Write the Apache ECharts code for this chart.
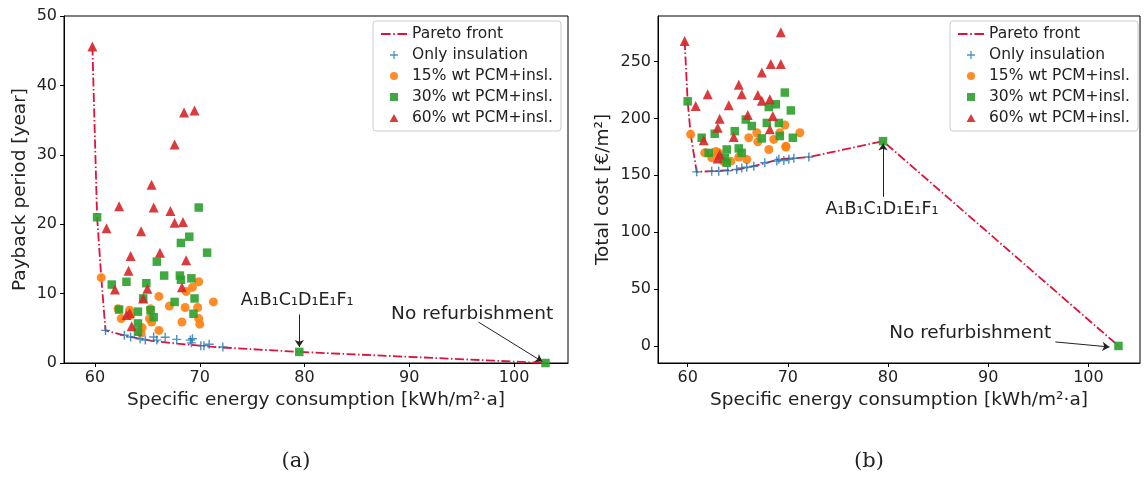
<!DOCTYPE html>
<html>
<head>
<meta charset="utf-8">
<script src="https://cdn.jsdelivr.net/npm/echarts@6/dist/echarts.min.js"></script>
<style>
  html, body { margin: 0; padding: 0; background: #fff; }
  #chart { width: 1144px; height: 479px; }
</style>
</head>
<body>
<div id="chart"></div>
<script>
// series names (legend)
const names = ['Pareto front', 'Only insulation', '15% wt PCM+insl.', '30% wt PCM+insl.', '60% wt PCM+insl.'];

// (a) payback period [year] vs specific energy consumption
const paretoA = [[59.75,45.6],[60.2,21.0],[60.6,12.3],[61.0,4.7],[62.7,4.0],[63.4,3.75],[64.3,3.5],[65.4,3.2],[67.8,2.8],[70.0,2.5],[71.9,2.26],[79.5,1.6],[103,0]];
const insulA = [[61.0,4.7],[62.8,4.0],[63.4,3.75],[64.3,3.5],[64.8,3.3],[65.6,3.75],[65.9,3.3],[66.7,3.7],[67.8,3.4],[69.1,3.3],[69.3,3.5],[69.2,2.9],[70.1,2.5],[70.4,2.5],[70.9,2.7],[72.2,2.3]];
const pcm15A = [[60.6,12.3],[62.2,7.8],[62.5,6.4],[63.3,7.6],[63.4,6.9],[64.5,5.1],[64.4,4.3],[65.2,6.4],[65.4,5.9],[65.3,7.8],[66.1,4.7],[66.1,9.6],[67.1,8.2],[68.3,5.9],[68.6,8.0],[68.7,10.3],[69.3,10.9],[69.9,11.7],[69.8,8.0],[69.9,6.4],[70.0,5.6],[71.3,8.8]];
const pcm30A = [[60.2,21.0],[61.6,11.3],[63.0,11.7],[62.3,7.7],[64.1,7.4],[64.6,9.3],[64.9,11.5],[65.3,7.6],[65.6,6.6],[65.9,14.6],[66.6,12.6],[64.1,5.7],[64.1,4.5],[67.6,8.8],[68.2,17.3],[69.0,18.2],[68.1,12.6],[68.2,12.0],[69.2,12.2],[69.5,9.3],[69.4,7.1],[69.9,22.4],[70.7,15.9],[79.5,1.6],[103,0]];
const pcm60A = [[59.75,45.6],[61.1,19.4],[62.3,22.6],[61.9,10.6],[63.2,13.3],[63.4,15.4],[64.4,19.0],[65.0,10.7],[65.4,25.7],[65.6,22.4],[66.2,15.9],[67.2,21.9],[67.6,20.2],[67.6,31.5],[68.4,20.3],[68.5,36.1],[69.5,36.4],[68.7,14.8],[68.3,10.9],[63.3,7.2],[63.5,5.3],[63.0,6.9],[64.6,9.3]];

// (b) total cost [€/m2] vs specific energy consumption
const paretoB = [[59.7,268],[60.0,215],[60.3,186],[60.9,153],[62.4,153.6],[64.9,155],[66.6,158],[69.1,164],[70.6,165],[72.1,166],[79.5,180],[103,0]];
const insulB = [[60.9,153],[62.4,153.6],[63.1,153.6],[64.0,154],[64.9,155],[65.4,156.5],[65.9,157],[66.6,158],[67.7,161],[68.9,162.5],[69.1,164],[69.6,163],[70.1,164],[70.6,165],[72.1,166]];
const pcm15B = [[60.3,186],[66.1,183],[67.0,179.4],[68.1,172.7],[68.6,181.5],[69.2,187.4],[69.7,194.2],[69.8,174.8],[61.7,169.7],[62.4,165.3],[63.1,169.7],[64.3,162.4],[65.9,163.9],[71.2,187.4],[66.9,187.4],[69.8,175.6],[63.6,162],[65.1,166],[62.8,171]];
const pcm30B = [[60.0,215],[69.7,222.7],[68.1,210],[68.8,212.4],[70.3,207],[65.8,199],[66.4,193.3],[67.9,196],[69.1,196],[69.2,184.5],[61.4,183],[62.7,186.5],[64.7,188.8],[67.4,182.4],[63.9,172.7],[65.1,173.6],[65.4,169.7],[62.1,169.7],[63.7,165.3],[63.9,161],[70.5,183],[79.5,180],[103,0]];
const pcm60B = [[59.7,268],[69.3,275.7],[68.3,247.7],[69.3,247.7],[67.4,240.3],[65.1,229.5],[65.4,221.3],[62.0,221.3],[67.0,220.6],[67.4,215.4],[68.2,216.8],[60.8,211],[64.1,211.5],[68.5,202],[66.0,203],[63.2,199.7],[63.0,191.8],[68.2,190.4],[64.6,183.6],[61.6,180.7],[63.2,168.3],[63.0,164.8]];

// ticks
const xTicks = [60, 70, 80, 90, 100];
const yTicksB = [0, 50, 100, 150, 200, 250];

// annotations: [text, font size, text position, arrow start, arrow end]
const notesA = [
  ['A₁B₁C₁D₁E₁F₁', 17.5, [79.3, 9.0], [79.5, 7.0], [79.5, 2.3]],
  ['No refurbishment', 18.5, [96.0, 7.0], [96.6, 5.9], [102.7, 0.2]]
];
const notesB = [
  ['A₁B₁C₁D₁E₁F₁', 17.5, [79.4, 120], [79.5, 131], [79.5, 178]],
  ['No refurbishment', 18.5, [88.2, 11.5], [96.7, 3.5], [102.1, -0.9]]
];

const colors = ['#dc143c', '#1f77b4', '#ff7f0e', '#2ca02c', '#d62728'];
const plusPath = 'path://M0,4.2H10V5.8H0Z M4.2,0H5.8V10H4.2Z';
const squarePath = 'path://M0,0H10V10H0Z';
const triPath = 'path://M5,0L10,9H0Z';
const dashDotPath = 'path://M0,4H9V5.8H0Z M11.5,4H13V5.8H11.5Z M15.5,4H24.5V5.8H15.5Z';
const font = 'DejaVu Sans';

var myChart = echarts.init(document.getElementById('chart'));

function xAxisFor(i) {
  return {
    type: 'value', gridIndex: i, min: 57.04, max: 105.15,
    name: 'Specific energy consumption [kWh/m²·a]',
    nameLocation: 'middle', nameGap: 28,
    nameTextStyle: { fontSize: 18.5, color: '#222', fontFamily: font },
    axisLine: { show: true, onZero: false, lineStyle: { color: '#000', width: 1 } },
    axisTick: { show: true, inside: false, length: 4, customValues: xTicks, lineStyle: { color: '#000' } },
    axisLabel: { customValues: xTicks, fontSize: 16, color: '#222', fontFamily: font, margin: 7 },
    splitLine: { show: false }
  };
}

function notesFor(notes) {
  return {
    markPoint: {
      symbol: 'circle', symbolSize: 0, silent: true,
      data: notes.map(n => ({
        coord: n[2],
        label: { show: true, position: 'inside', formatter: n[0], fontSize: n[1], color: '#222', fontFamily: font }
      }))
    },
    markLine: {
      silent: true, symbol: ['none', 'arrow'], symbolSize: 7,
      label: { show: false },
      lineStyle: { color: '#222', width: 1, type: 'solid' },
      data: notes.map(n => [{ coord: n[3] }, { coord: n[4] }])
    }
  };
}

function seriesFor(i, pareto, insul, p15, p30, p60, notes) {
  const base = { xAxisIndex: i, yAxisIndex: i, animation: false };
  return [
    Object.assign({
      name: names[0], type: 'line', data: pareto, symbol: 'none', z: 1,
      lineStyle: { color: colors[0], width: 1.8, type: [9, 2.5, 1.5, 2.5] },
      itemStyle: { color: colors[0] }
    }, base, notesFor(notes)),
    Object.assign({ name: names[1], type: 'scatter', data: insul, symbol: plusPath, symbolSize: 9, z: 3,
      itemStyle: { color: colors[1] } }, base),
    Object.assign({ name: names[2], type: 'scatter', data: p15, symbol: 'circle', symbolSize: 9, z: 2,
      itemStyle: { color: colors[2], opacity: 0.9 } }, base),
    Object.assign({ name: names[3], type: 'scatter', data: p30, symbol: squarePath, symbolSize: 8.5, z: 2,
      itemStyle: { color: colors[3], opacity: 0.9 } }, base),
    Object.assign({ name: names[4], type: 'scatter', data: p60, symbol: triPath, symbolSize: 10, z: 2,
      itemStyle: { color: colors[4], opacity: 0.9 } }, base)
  ];
}

function legendFor(left) {
  return {
    orient: 'vertical', left: left, top: 21,
    data: [
      { name: names[0], icon: dashDotPath },
      { name: names[1], icon: plusPath },
      { name: names[2], icon: 'circle' },
      { name: names[3], icon: squarePath },
      { name: names[4], icon: triPath }
    ],
    itemWidth: 26, itemHeight: 8, itemGap: 5, symbolKeepAspect: true,
    padding: [5, 8, 5, 8],
    borderColor: '#ccc', borderWidth: 1, borderRadius: 3,
    backgroundColor: 'rgba(255,255,255,0.85)',
    textStyle: { fontSize: 15.5, color: '#222', fontFamily: font, lineHeight: 16 }
  };
}

let option = {
  animation: false,
  backgroundColor: '#fff',
  grid: [
    { left: 64, top: 16, width: 504, height: 347, show: true, borderColor: '#000', borderWidth: 1 },
    { left: 658, top: 16, width: 482, height: 347, show: true, borderColor: '#000', borderWidth: 1 }
  ],
  xAxis: [xAxisFor(0), xAxisFor(1)],
  yAxis: [
    {
      type: 'value', gridIndex: 0, min: 0, max: 50, interval: 10,
      name: 'Payback period [year]', nameLocation: 'middle', nameGap: 34,
      nameTextStyle: { fontSize: 18.5, color: '#222', fontFamily: font },
      axisLine: { show: true, onZero: false, lineStyle: { color: '#000' } },
      axisTick: { show: true, length: 4, lineStyle: { color: '#000' } },
      axisLabel: { fontSize: 16, color: '#222', fontFamily: font, margin: 7 },
      splitLine: { show: false }
    },
    {
      type: 'value', gridIndex: 1, min: -15, max: 290,
      name: 'Total cost [€/m²]', nameLocation: 'middle', nameGap: 45,
      nameTextStyle: { fontSize: 18.5, color: '#222', fontFamily: font },
      axisLine: { show: true, onZero: false, lineStyle: { color: '#000' } },
      axisTick: { show: true, length: 4, customValues: yTicksB, lineStyle: { color: '#000' } },
      axisLabel: { customValues: yTicksB, fontSize: 16, color: '#222', fontFamily: font, margin: 7 },
      splitLine: { show: false }
    }
  ],
  legend: [legendFor(373), legendFor(950)],
  series: [].concat(
    seriesFor(0, paretoA, insulA, pcm15A, pcm30A, pcm60A, notesA),
    seriesFor(1, paretoB, insulB, pcm15B, pcm30B, pcm60B, notesB)
  ),
  graphic: [
    { type: 'text', x: 296, y: 462, style: { text: '(a)', align: 'center', verticalAlign: 'middle', font: '21px "DejaVu Serif"', fill: '#222' } },
    { type: 'text', x: 869, y: 462, style: { text: '(b)', align: 'center', verticalAlign: 'middle', font: '21px "DejaVu Serif"', fill: '#222' } }
  ]
};
myChart.setOption(option);
</script>
</body>
</html>
